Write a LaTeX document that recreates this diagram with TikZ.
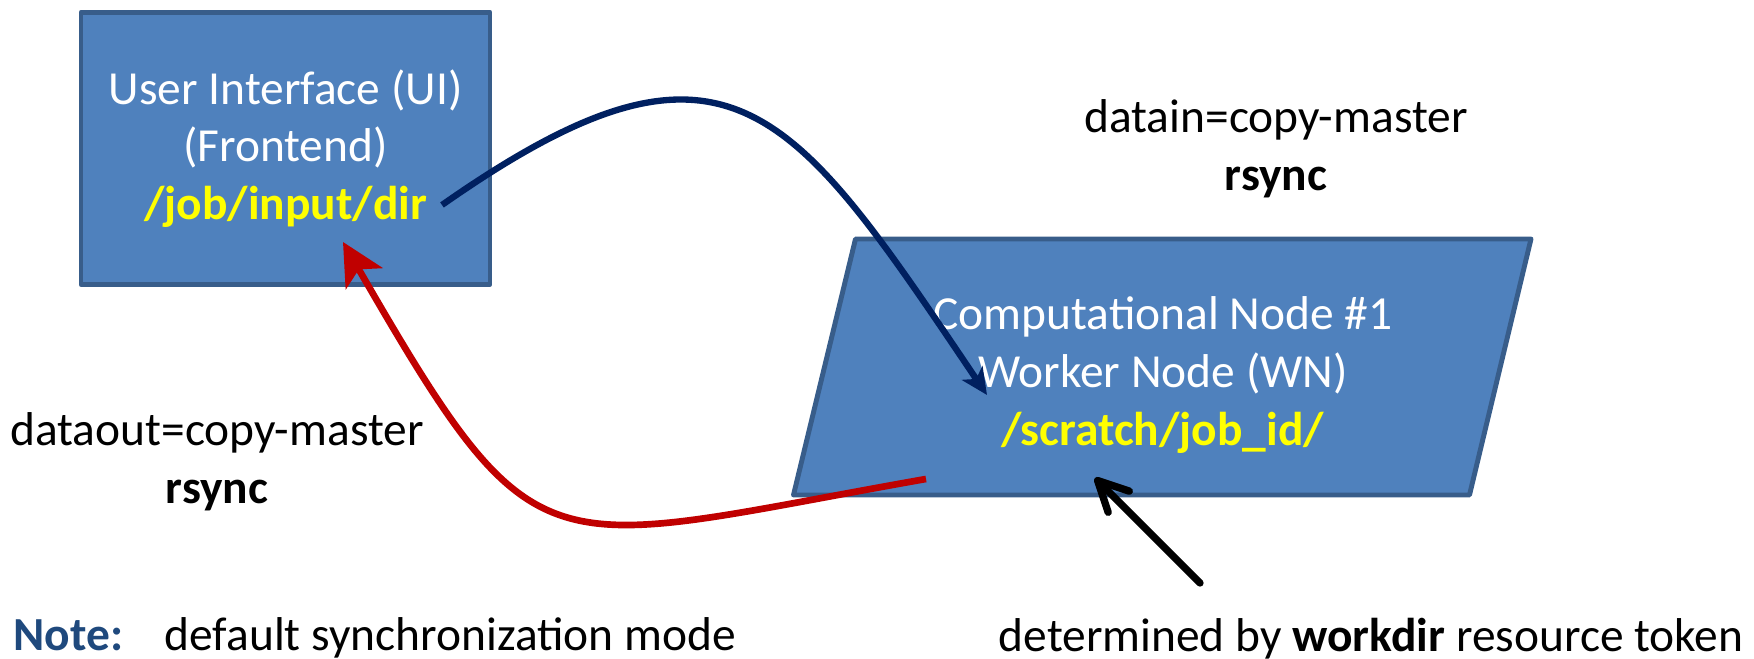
\documentclass[tikz,border=0pt]{standalone}
\usepackage{fontspec}
\setmainfont{Carlito}
\usetikzlibrary{calc,arrows.meta}

\definecolor{boxfill}{HTML}{4F81BD}
\definecolor{boxline}{HTML}{385D8A}
\definecolor{diryellow}{HTML}{FFFF00}
\definecolor{copyblue}{HTML}{002060}
\definecolor{copyred}{HTML}{C00000}
\definecolor{notecolor}{HTML}{1F497D}

\newcommand{\dirtext}[1]{\textcolor{diryellow}{\textbf{#1}}}

\begin{document}
\begin{tikzpicture}[
  txt/.style={font=\fontsize{13.5}{16.4}\selectfont,inner sep=0pt},
  box/.style={draw=boxline,fill=boxfill,line width=1.4pt,line join=round},
  boxtext/.style={txt,align=center,text=white},
  copyin/.style={copyblue,line width=1.8pt,-{Stealth[length=7.5pt,width=7pt,inset=2pt]}},
  copyout/.style={copyred,line width=1.9pt,-{Stealth[length=12pt,width=12pt,inset=3pt]}},
  pointer/.style={black,line width=2.1pt,line cap=round,-{Straight Barb[length=8.5pt,width=8.5pt,round]}}]
  \useasboundingbox (0,0) rectangle (17.54,6.59);

  % the two machines
  \node[box,boxtext,minimum width=4.09cm,minimum height=2.72cm] (ui) at (2.855,5.105)
    {User Interface (UI)\\(Frontend)\\\dirtext{/job/input/dir}};
  \filldraw[box] (7.935,1.64) -- (8.555,4.20) -- (15.31,4.20) -- (14.695,1.64) -- cycle;
  \node[boxtext] (wn) at (11.63,2.84)
    {Computational Node \#1\\Worker Node (WN)\\\dirtext{/scratch/job\_id/}};

  % labels
  \node[txt,align=center] (inlbl) at (12.76,5.10) {datain=copy-master\\\textbf{rsync}};
  \node[txt,align=center] (outlbl) at (2.17,1.97) {dataout=copy-master\\\textbf{rsync}};
  \node[txt,anchor=base west,text=notecolor] (note) at (0.13,0.08) {\textbf{Note:}};
  \node[txt,anchor=base west] (notetext) at (1.64,0.08) {default synchronization mode};
  \node[txt,anchor=base west] (token) at (9.98,0.07) {determined by \textbf{workdir} resource token};

  % connectors
  \coordinate (uiout) at ($(ui.center)+(1.565,-0.565)$);
  \coordinate (uiin) at ($(ui.center)+(0.575,-0.935)$);
  \coordinate (wnin) at ($(wn.center)+(-1.76,-0.20)$);
  \coordinate (wnout) at ($(wn.center)+(-2.37,-1.04)$);
  \coordinate (wntok) at ($(wn.center)+(-0.68,-1.03)$);
  \coordinate (tokend) at (12.00,0.76);
  \draw[copyin] (uiout) to[out=35,in=124,looseness=1.55] (wnin);
  \draw[copyout] (wnout) to[out=190,in=-60,looseness=1.6] (uiin);
  \draw[pointer] (tokend) -- (wntok);
\end{tikzpicture}
\end{document}
